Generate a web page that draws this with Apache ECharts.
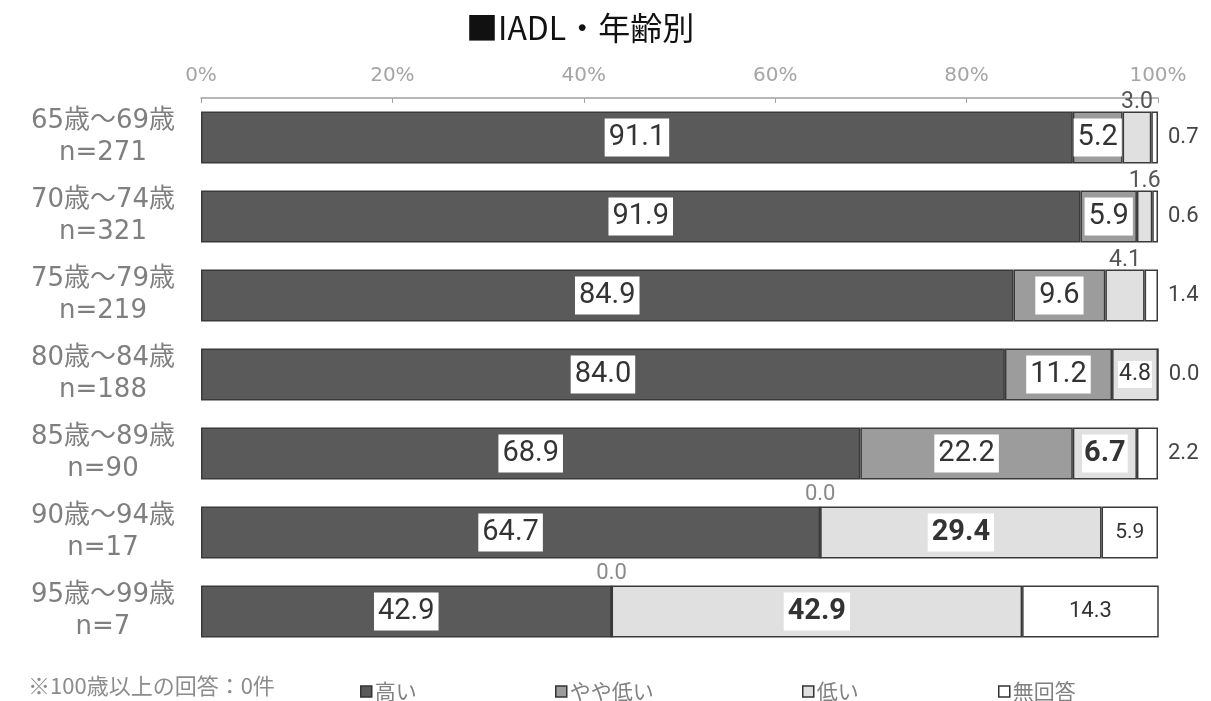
<!DOCTYPE html>
<html>
<head>
<meta charset="utf-8">
<script src="https://cdn.jsdelivr.net/npm/echarts@6/dist/echarts.min.js"></script>
<style>html,body{margin:0;padding:0;background:#fff}#c{width:1211px;height:701px}</style>
</head>
<body>
<div id="c"></div>
<script>
const titleText = '■IADL・年齢別';
const footnote = '※100歳以上の回答：0件';
const categories = ['65歳～69歳\nn=271', '70歳～74歳\nn=321', '75歳～79歳\nn=219', '80歳～84歳\nn=188', '85歳～89歳\nn=90', '90歳～94歳\nn=17', '95歳～99歳\nn=7'];
const seriesNames = ['高い', 'やや低い', '低い', '無回答'];
const high = [91.1, 91.9, 84.9, 84.0, 68.9, 64.7, 42.9];
const slightlyLow = [5.2, 5.9, 9.6, 11.2, 22.2, 0.0, 0.0];
const low = [3.0, 1.6, 4.1, 4.8, 6.7, 29.4, 42.9];
const noAnswer = [0.7, 0.6, 1.4, 0.0, 2.2, 5.9, 14.3];
const xTicks = [0, 20, 40, 60, 80, 100];

const FONT = '"DejaVu Sans", "Noto Sans CJK JP", sans-serif';
const VFONT = 'Roboto, "Noto Sans CJK JP", sans-serif';
const CJK = '"Noto Sans CJK JP", sans-serif';
const colors = ['#5a5a5a', '#9c9c9c', '#e0e0e0', '#ffffff'];

const boxLabel = (extra) => Object.assign({
  show: true, position: 'inside', color: '#333', fontFamily: VFONT, fontSize: 29, lineHeight: 33,
  backgroundColor: '#fff', padding: [3, 4, 2, 4],
  formatter: p => p.value.toFixed(1)
}, extra || {});

const plainLabel = (extra) => Object.assign({
  show: true, color: '#555', fontSize: 22, backgroundColor: 'transparent', padding: 0, fontFamily: VFONT
}, extra || {});

function dataWithLabels(values, fn) {
  return values.map((v, i) => ({ value: v, label: fn(i, v) }));
}

const highData = dataWithLabels(high, () => boxLabel());
const slightlyLowData = dataWithLabels(slightlyLow, (i, v) =>
  v === 0 ? plainLabel({ position: 'top', distance: 0, color: '#8a8a8a', fontSize: 22 })
          : boxLabel());
const lowData = dataWithLabels(low, (i) => {
  if (i <= 2) return plainLabel({ position: 'top', distance: -2, color: '#555', fontSize: 23 });
  if (i === 3) return boxLabel({ fontSize: 23, lineHeight: 26, padding: [1, 1, 0, 1] });
  if (i === 4) return boxLabel({ fontWeight: 'bold', padding: [3, 2, 2, 2] });
  return boxLabel({ fontWeight: 'bold' });
});
const noAnswerData = dataWithLabels(noAnswer, (i) => {
  if (i <= 4) return plainLabel({ position: 'right', distance: 10, color: '#444', fontSize: 22 });
  if (i === 5) return boxLabel({ fontSize: 21, backgroundColor: 'transparent' });
  return boxLabel({ fontSize: 22, backgroundColor: 'transparent' });
});

const allData = [highData, slightlyLowData, lowData, noAnswerData];

const series = seriesNames.map((name, k) => ({
  name, type: 'bar', stack: 'total', barWidth: 52,
  itemStyle: { color: colors[k], borderColor: '#3a3a3a', borderWidth: 1.5 },
  label: { show: true, formatter: p => p.value.toFixed(1) },
  data: allData[k]
}));

const legendX = [355, 550, 797, 993];
const legends = seriesNames.map((name, k) => ({
  data: [name], left: legendX[k], top: 676, itemWidth: 11, itemHeight: 11, itemGap: 4,
  icon: 'rect', selectedMode: false,
  itemStyle: { borderColor: '#333', borderWidth: 1.5 },
  textStyle: { color: '#808080', fontSize: 21, fontFamily: CJK, padding: [0, 0, 0, -2] }
}));

const chart = echarts.init(document.getElementById('c'), null, { renderer: 'canvas' });
chart.setOption({
  backgroundColor: '#fff',
  animation: false,
  title: {
    text: titleText, left: 461, top: 7,
    textStyle: { fontSize: 32, fontWeight: 'normal', color: '#111', fontFamily: CJK }
  },
  graphic: [{
    type: 'text', left: 28, top: 675,
    style: { text: footnote, fill: '#8c8c8c', fontSize: 22, fontFamily: CJK }
  }],
  legend: legends,
  grid: { left: 201, right: 53, top: 98, bottom: 50, containLabel: false },
  xAxis: {
    type: 'value', position: 'top', min: xTicks[0], max: xTicks[xTicks.length - 1], interval: 20,
    axisLine: { show: true, lineStyle: { color: '#a0a0a0', width: 1.5 } },
    axisTick: { show: true, inside: true, length: 5, lineStyle: { color: '#a0a0a0' } },
    splitLine: { show: false },
    axisLabel: { formatter: '{value}%', color: '#a5a5a5', fontSize: 20, margin: 12, fontFamily: FONT }
  },
  yAxis: {
    type: 'category', inverse: true, data: categories,
    axisLine: { show: false }, axisTick: { show: false },
    axisLabel: { color: '#7f7f7f', fontSize: 26, lineHeight: 32, align: 'center', margin: 98, fontFamily: FONT }
  },
  series
});
</script>
</body>
</html>
